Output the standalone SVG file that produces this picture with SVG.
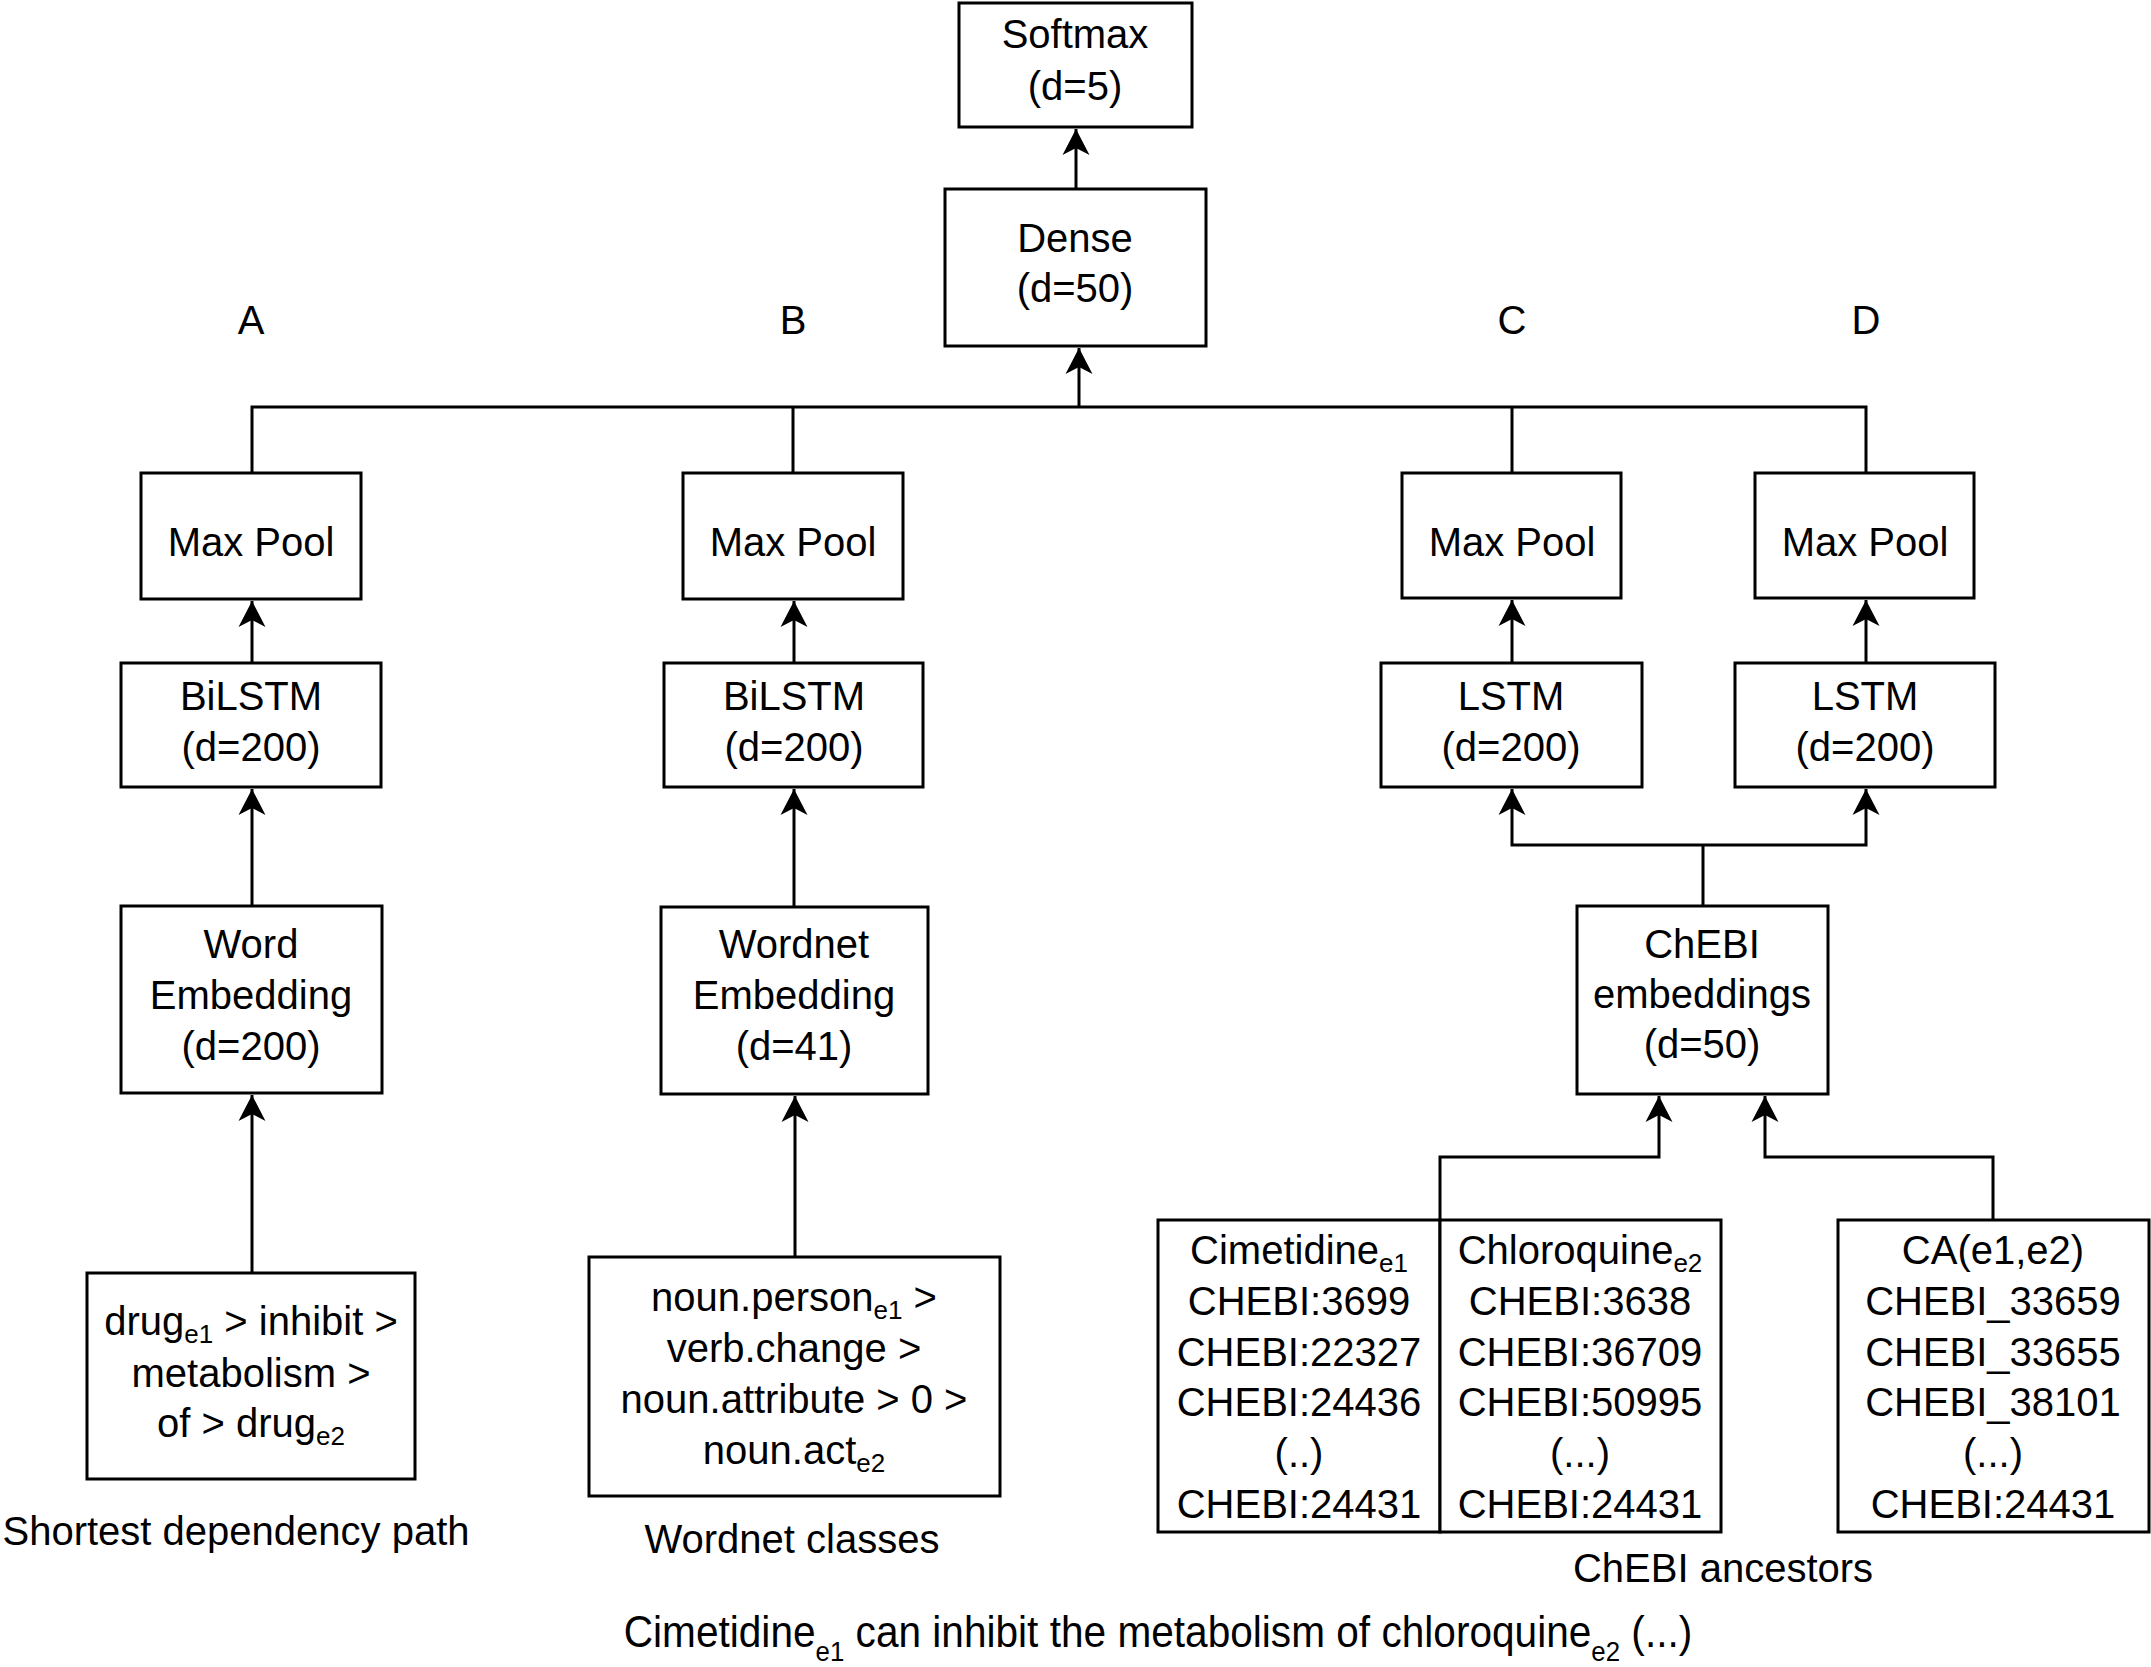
<svg xmlns="http://www.w3.org/2000/svg" width="2151" height="1667" viewBox="0 0 2151 1667">
<style>
.b{fill:#fff;stroke:#000;stroke-width:3}
.t{font-family:"Liberation Sans",Arial,sans-serif;font-size:40px;fill:#000;text-anchor:middle}
.c{fill:none;stroke:#000;stroke-width:3}
.s{font-size:26px}
</style>
<defs>
<marker id="ar" markerUnits="userSpaceOnUse" markerWidth="30" markerHeight="30" viewBox="-28 -15 30 30" refX="0" refY="0" orient="auto">
<path d="M0,0 L-26,-13.5 L-19,0 L-26,13.5 Z" fill="#000"/>
</marker>
</defs>
<rect width="2151" height="1667" fill="#fff"/>
<g id="connectors">
<path class="c" d="M1076,189 L1076,129" marker-end="url(#ar)"/>
<path class="c" d="M1079,407 L1079,348" marker-end="url(#ar)"/>
<path class="c" d="M252,473 L252,407 L1866,407 L1866,473"/>
<path class="c" d="M793,473 L793,407"/>
<path class="c" d="M1512,473 L1512,407"/>
<path class="c" d="M252,663 L252,601" marker-end="url(#ar)"/>
<path class="c" d="M252,906 L252,789" marker-end="url(#ar)"/>
<path class="c" d="M252,1273 L252,1095" marker-end="url(#ar)"/>
<path class="c" d="M794,663 L794,601" marker-end="url(#ar)"/>
<path class="c" d="M794,907 L794,789" marker-end="url(#ar)"/>
<path class="c" d="M795,1257 L795,1096" marker-end="url(#ar)"/>
<path class="c" d="M1512,663 L1512,600" marker-end="url(#ar)"/>
<path class="c" d="M1866,663 L1866,600" marker-end="url(#ar)"/>
<path class="c" d="M1703,906 L1703,845"/>
<path class="c" d="M1703,845 L1512,845 L1512,789" marker-end="url(#ar)"/>
<path class="c" d="M1703,845 L1866,845 L1866,789" marker-end="url(#ar)"/>
<path class="c" d="M1440,1220 L1440,1157 L1659,1157 L1659,1096" marker-end="url(#ar)"/>
<path class="c" d="M1993,1220 L1993,1157 L1765,1157 L1765,1096" marker-end="url(#ar)"/>
</g>
<g id="softmax"><rect class="b" x="959" y="3" width="233" height="124"/><text class="t" x="1075" y="48">Softmax</text><text class="t" x="1075" y="100">(d=5)</text></g>
<g id="dense"><rect class="b" x="945" y="189" width="261" height="157"/><text class="t" x="1075" y="252">Dense</text><text class="t" x="1075" y="302">(d=50)</text></g>
<g id="labelA"><text class="t" x="251" y="334">A</text></g>
<g id="labelB"><text class="t" x="793" y="334">B</text></g>
<g id="labelC"><text class="t" x="1512" y="334">C</text></g>
<g id="labelD"><text class="t" x="1866" y="334">D</text></g>
<g id="maxpoolA"><rect class="b" x="141" y="473" width="220" height="126"/><text class="t" x="251" y="556">Max Pool</text></g>
<g id="maxpoolB"><rect class="b" x="683" y="473" width="220" height="126"/><text class="t" x="793" y="556">Max Pool</text></g>
<g id="maxpoolC"><rect class="b" x="1402" y="473" width="219" height="125"/><text class="t" x="1512" y="556">Max Pool</text></g>
<g id="maxpoolD"><rect class="b" x="1755" y="473" width="219" height="125"/><text class="t" x="1865" y="556">Max Pool</text></g>
<g id="bilstmA"><rect class="b" x="121" y="663" width="260" height="124"/><text class="t" x="251" y="710">BiLSTM</text><text class="t" x="251" y="761">(d=200)</text></g>
<g id="bilstmB"><rect class="b" x="664" y="663" width="259" height="124"/><text class="t" x="794" y="710">BiLSTM</text><text class="t" x="794" y="761">(d=200)</text></g>
<g id="lstmC"><rect class="b" x="1381" y="663" width="261" height="124"/><text class="t" x="1511" y="710">LSTM</text><text class="t" x="1511" y="761">(d=200)</text></g>
<g id="lstmD"><rect class="b" x="1735" y="663" width="260" height="124"/><text class="t" x="1865" y="710">LSTM</text><text class="t" x="1865" y="761">(d=200)</text></g>
<g id="wordEmb"><rect class="b" x="121" y="906" width="261" height="187"/><text class="t" x="251" y="958">Word</text><text class="t" x="251" y="1009">Embedding</text><text class="t" x="251" y="1060">(d=200)</text></g>
<g id="wordnetEmb"><rect class="b" x="661" y="907" width="267" height="187"/><text class="t" x="794" y="958">Wordnet</text><text class="t" x="794" y="1009">Embedding</text><text class="t" x="794" y="1060">(d=41)</text></g>
<g id="chebiEmb"><rect class="b" x="1577" y="906" width="251" height="188"/><text class="t" x="1702" y="958">ChEBI</text><text class="t" x="1702" y="1008">embeddings</text><text class="t" x="1702" y="1058">(d=50)</text></g>
<g id="sdp"><rect class="b" x="87" y="1273" width="328" height="206"/>
<text class="t" x="251" y="1335">drug<tspan class="s" dy="8">e1</tspan><tspan dy="-8"> &gt; inhibit &gt;</tspan></text>
<text class="t" x="251" y="1387">metabolism &gt;</text>
<text class="t" x="251" y="1437">of &gt; drug<tspan class="s" dy="8">e2</tspan></text>
</g>
<g id="wordnetClasses"><rect class="b" x="589" y="1257" width="411" height="239"/>
<text class="t" x="794" y="1311">noun.person<tspan class="s" dy="8">e1</tspan><tspan dy="-8"> &gt;</tspan></text>
<text class="t" x="794" y="1362">verb.change &gt;</text>
<text class="t" x="794" y="1413">noun.attribute &gt; 0 &gt;</text>
<text class="t" x="794" y="1464">noun.act<tspan class="s" dy="8">e2</tspan></text>
</g>
<g id="cimetidine"><rect class="b" x="1158" y="1220" width="282" height="312"/>
<text class="t" x="1299" y="1264">Cimetidine<tspan class="s" dy="8">e1</tspan></text>
<text class="t" x="1299" y="1315">CHEBI:3699</text>
<text class="t" x="1299" y="1366">CHEBI:22327</text>
<text class="t" x="1299" y="1416">CHEBI:24436</text>
<text class="t" x="1299" y="1467">(..)</text>
<text class="t" x="1299" y="1518">CHEBI:24431</text>
</g>
<g id="chloroquine"><rect class="b" x="1440" y="1220" width="281" height="312"/>
<text class="t" x="1580" y="1264">Chloroquine<tspan class="s" dy="8">e2</tspan></text>
<text class="t" x="1580" y="1315">CHEBI:3638</text>
<text class="t" x="1580" y="1366">CHEBI:36709</text>
<text class="t" x="1580" y="1416">CHEBI:50995</text>
<text class="t" x="1580" y="1467">(...)</text>
<text class="t" x="1580" y="1518">CHEBI:24431</text>
</g>
<g id="commonAncestors"><rect class="b" x="1838" y="1220" width="311" height="312"/>
<text class="t" x="1993" y="1264">CA(e1,e2)</text>
<text class="t" x="1993" y="1315">CHEBI_33659</text>
<text class="t" x="1993" y="1366">CHEBI_33655</text>
<text class="t" x="1993" y="1416">CHEBI_38101</text>
<text class="t" x="1993" y="1467">(...)</text>
<text class="t" x="1993" y="1518">CHEBI:24431</text>
</g>
<g id="captions">
<text class="t" x="236" y="1545">Shortest dependency path</text>
<text class="t" x="792" y="1553">Wordnet classes</text>
<text class="t" x="1723" y="1582">ChEBI ancestors</text>
<text class="t" transform="translate(1158,1647) scale(0.923,1)" x="0" y="0" style="font-size:44px">Cimetidine<tspan style="font-size:28px" dy="14">e1</tspan><tspan dy="-14"> can inhibit the metabolism of chloroquine</tspan><tspan style="font-size:28px" dy="14">e2</tspan><tspan dy="-14"> (...)</tspan></text>
</g>
</svg>
